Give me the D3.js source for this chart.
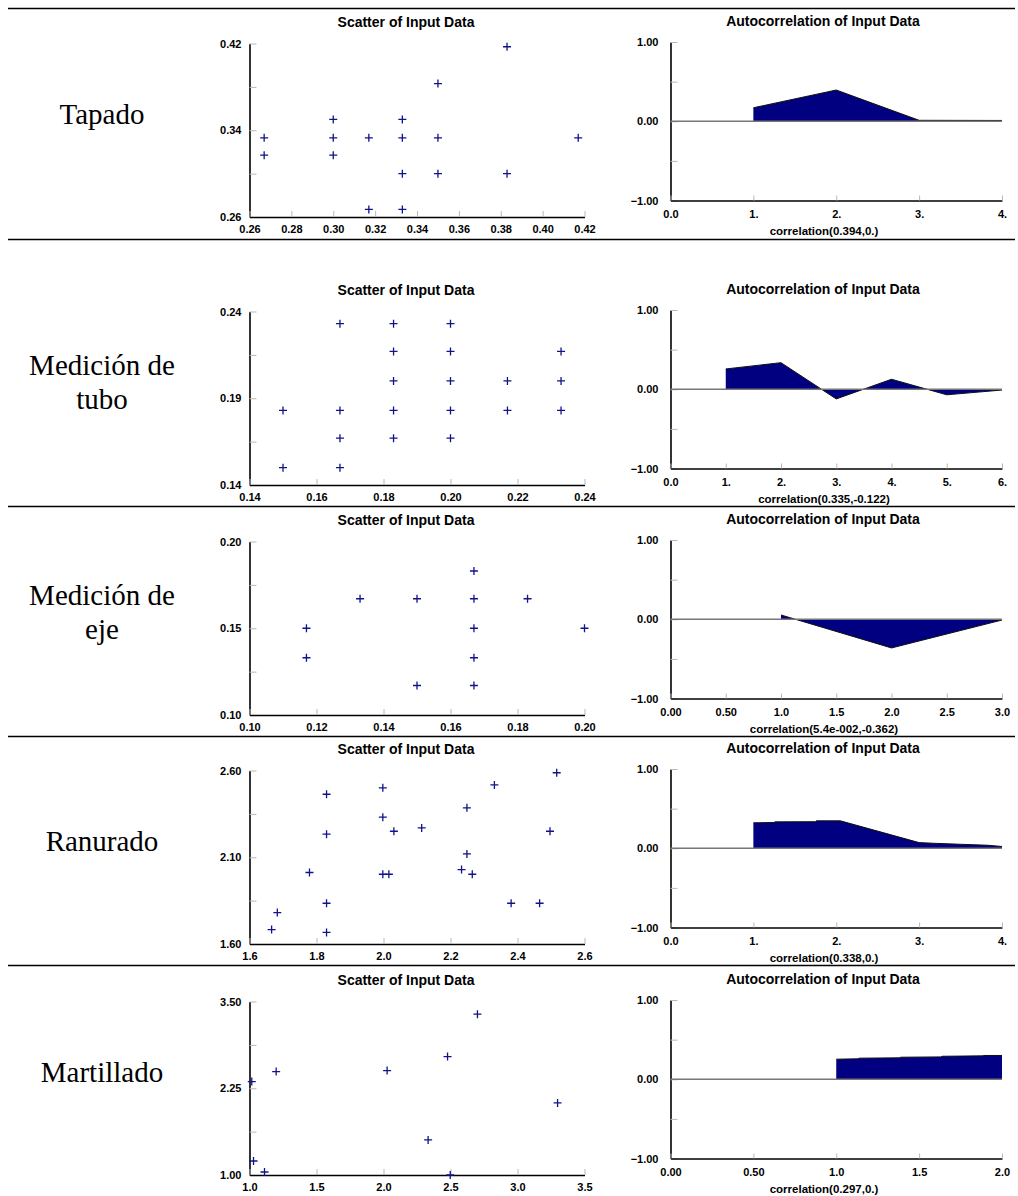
<!DOCTYPE html>
<html lang="es">
  <head>
    <meta charset="UTF-8" />
    <title>Scatter y autocorrelación</title>
    <script src="https://d3js.org/d3.v7.min.js"></script>
    <style>
      body { margin: 0; background: #fff; }
      .lbl { font-family: 'Liberation Serif', 'Times New Roman', serif; font-size: 29px; }
      .ct { font-family: 'Liberation Sans', Arial, sans-serif; font-weight: bold; }
    </style>
  </head>
  <body>
    <svg width="1018" height="1196"></svg>
  </body>

  <script>
    // nombres de cada fila
    var rowNames = [['Tapado'], ['Medición de', 'tubo'], ['Medición de', 'eje'], ['Ranurado'], ['Martillado']]

    // datos del scatter (x, y)
    var tapadoPts = [[0.383, 0.417], [0.35, 0.383], [0.3, 0.35], [0.333, 0.35], [0.267, 0.333], [0.3, 0.333],
      [0.317, 0.333], [0.333, 0.333], [0.35, 0.333], [0.417, 0.333], [0.267, 0.317], [0.3, 0.317],
      [0.333, 0.3], [0.35, 0.3], [0.383, 0.3], [0.317, 0.267], [0.333, 0.267]]
    var tuboPts = [[0.167, 0.233], [0.183, 0.233], [0.2, 0.233], [0.183, 0.217], [0.2, 0.217], [0.233, 0.217],
      [0.183, 0.2], [0.2, 0.2], [0.217, 0.2], [0.233, 0.2], [0.15, 0.183], [0.167, 0.183], [0.183, 0.183],
      [0.2, 0.183], [0.217, 0.183], [0.233, 0.183], [0.167, 0.167], [0.183, 0.167], [0.2, 0.167],
      [0.15, 0.15], [0.167, 0.15]]
    var ejePts = [[0.167, 0.183], [0.133, 0.167], [0.15, 0.167], [0.167, 0.167], [0.183, 0.167],
      [0.117, 0.15], [0.167, 0.15], [0.2, 0.15], [0.117, 0.133], [0.167, 0.133], [0.15, 0.117], [0.167, 0.117]]
    var ranuradoPts = [[2.517, 2.587], [2.331, 2.517], [1.998, 2.5], [1.83, 2.463], [2.249, 2.385], [1.998, 2.331],
      [2.031, 2.25], [2.114, 2.269], [2.497, 2.25], [1.83, 2.233], [2.249, 2.119], [1.779, 2.012],
      [1.998, 2.002], [2.016, 2.002], [2.233, 2.029], [2.265, 2.002], [1.83, 1.835], [2.381, 1.835],
      [2.466, 1.835], [1.683, 1.781], [1.666, 1.683], [1.83, 1.667]]
    var martilladoPts = [[1.017, 2.346], [1.03, 1.202], [1.112, 1.043], [1.199, 2.49], [2.027, 2.505],
      [2.333, 1.505], [2.478, 2.707], [2.498, 1.0], [2.701, 3.317], [3.299, 2.038]]

    // ticks del scatter
    var scatterXTicks = [
      [0.26, 0.28, 0.30, 0.32, 0.34, 0.36, 0.38, 0.40, 0.42],
      [0.14, 0.16, 0.18, 0.20, 0.22, 0.24],
      [0.10, 0.12, 0.14, 0.16, 0.18, 0.20],
      [1.6, 1.8, 2.0, 2.2, 2.4, 2.6],
      [1.0, 1.5, 2.0, 2.5, 3.0, 3.5]
    ]
    var scatterXFmt = ['.2f', '.2f', '.2f', '.1f', '.1f']
    var scatterYTicks = [[0.26, 0.34, 0.42], [0.14, 0.19, 0.24], [0.10, 0.15, 0.20], [1.60, 2.10, 2.60], [1.00, 2.25, 3.50]]

    // autocorrelación (lag, valor)
    var acfLags = [
      [1, 2, 3, 4],
      [1, 2, 3, 4, 5, 6],
      [1, 2, 3],
      [1, 1.25, 1.26, 1.75, 1.76, 2.05, 3, 3.17, 3.5, 3.83, 4],
      [1, 1.13, 1.14, 1.38, 1.39, 1.63, 1.64, 1.88, 1.89, 2]
    ]
    var acfValues = [
      [0.17, 0.394, 0.012, 0.01],
      [0.256, 0.335, -0.122, 0.126, -0.07, -0.01],
      [0.054, -0.362, -0.01],
      [0.321, 0.325, 0.333, 0.335, 0.346, 0.346, 0.071, 0.063, 0.05, 0.038, 0.022],
      [0.253, 0.258, 0.266, 0.27, 0.278, 0.282, 0.29, 0.295, 0.3, 0.3]
    ]
    var acfXTicks = [[0, 1, 2, 3, 4], [0, 1, 2, 3, 4, 5, 6], [0, 0.5, 1, 1.5, 2, 2.5, 3], [0, 1, 2, 3, 4], [0, 0.5, 1, 1.5, 2]]
    var acfXLabels = [
      ['0.0', '1.', '2.', '3.', '4.'],
      ['0.0', '1.', '2.', '3.', '4.', '5.', '6.'],
      ['0.00', '0.50', '1.0', '1.5', '2.0', '2.5', '3.0'],
      ['0.0', '1.', '2.', '3.', '4.'],
      ['0.00', '0.50', '1.0', '1.5', '2.0']
    ]
    var acfCaptions = ['correlation(0.394,0.)', 'correlation(0.335,-0.122)', 'correlation(5.4e-002,-0.362)',
      'correlation(0.338,0.)', 'correlation(0.297,0.)']

    var scatterSets = [tapadoPts, tuboPts, ejePts, ranuradoPts, martilladoPts]

    // layout
    var svg = d3.select('svg')
    var ruleY = [8.5, 239.5, 506.5, 736.5, 965.5]
    var rowTop = [22, 290, 520, 749, 980]
    var mark = '#12128a'

    // lineas de la tabla
    svg.append('g').selectAll('line').data(ruleY).enter().append('line')
      .attr('x1', 8).attr('x2', 1015).attr('y1', function (d) { return d }).attr('y2', function (d) { return d })
      .attr('stroke', '#000').attr('stroke-width', 1.6)

    function styleAxis(g) {
      g.attr('font-family', null).attr('font-size', null)
      g.select('.domain').attr('stroke', '#000').attr('stroke-width', 1.6)
      g.selectAll('.tick line').attr('stroke', '#b8b8b8').attr('stroke-width', 1)
      g.selectAll('.tick text').attr('class', 'ct').attr('font-size', 11).attr('fill', '#000')
    }

    rowNames.forEach(function (lines, i) {
      var top = rowTop[i]
      var row = svg.append('g')

      // nombre
      var mid = top + 92
      row.append('g').selectAll('text').data(lines).enter().append('text')
        .attr('class', 'lbl')
        .attr('x', 102)
        .attr('y', function (d, k) { return mid + 10 + (k - (lines.length - 1) / 2) * 33.5 })
        .attr('text-anchor', 'middle')
        .text(function (d) { return d })

      // ---- scatter ----
      var xt = scatterXTicks[i], yt = scatterYTicks[i]
      var x = d3.scaleLinear().domain([xt[0], xt[xt.length - 1]]).range([249.5, 584.5])
      var y = d3.scaleLinear().domain([yt[0], yt[yt.length - 1]]).range([top + 195, top + 21.5])
      var yAll = d3.range(5).map(function (k) { return yt[0] + (yt[2] - yt[0]) * k / 4 })

      row.append('text').attr('class', 'ct').attr('font-size', 14)
        .attr('x', 406).attr('y', top).attr('dy', '0.36em').attr('text-anchor', 'middle')
        .text('Scatter of Input Data')

      var gy = row.append('g').attr('transform', 'translate(' + x.range()[0] + ',0)')
        .call(d3.axisLeft(y).tickValues(yAll).tickSize(-7).tickSizeOuter(0).tickPadding(8)
          .tickFormat(function (d, k) { return k % 2 === 0 ? d3.format('.2f')(d) : '' }))
      styleAxis(gy)

      var gx = row.append('g').attr('transform', 'translate(0,' + y.range()[0] + ')')
        .call(d3.axisBottom(x).tickValues(xt).tickSize(-6).tickSizeOuter(0).tickFormat(d3.format(scatterXFmt[i])))
      styleAxis(gx)
      gx.selectAll('.tick text').attr('y', 12.5).attr('dy', '0.36em')

      row.append('g').selectAll('path').data(scatterSets[i]).enter().append('path')
        .attr('d', function (d) {
          var px = x(d[0]), py = y(d[1])
          return 'M' + (px - 4) + ',' + py + 'H' + (px + 4) + 'M' + px + ',' + (py - 4) + 'V' + (py + 4)
        })
        .attr('stroke', mark).attr('stroke-width', 1.3).attr('fill', 'none')

      // ---- autocorrelacion ----
      var lags = acfLags[i], vals = acfValues[i], at = acfXTicks[i]
      var ax = d3.scaleLinear().domain([0, at[at.length - 1]]).range([670.5, 1002])
      var ay = d3.scaleLinear().domain([-1, 1]).range([top + 178.5, top + 20])

      row.append('text').attr('class', 'ct').attr('font-size', 14)
        .attr('x', 823).attr('y', top - 1).attr('dy', '0.36em').attr('text-anchor', 'middle')
        .text('Autocorrelation of Input Data')

      var agy = row.append('g').attr('transform', 'translate(' + ax.range()[0] + ',0)')
        .call(d3.axisLeft(ay).tickValues([-1, -0.5, 0, 0.5, 1]).tickSize(-7).tickSizeOuter(0).tickPadding(12)
          .tickFormat(function (d) { return d === 0.5 || d === -0.5 ? '' : d3.format('.2f')(d) }))
      styleAxis(agy)

      var agx = row.append('g').attr('transform', 'translate(0,' + ay.range()[0] + ')')
        .call(d3.axisBottom(ax).tickValues(at).tickSize(-5).tickSizeOuter(0)
          .tickFormat(function (d, k) { return acfXLabels[i][k] }))
      styleAxis(agx)
      agx.selectAll('.tick text').attr('y', 13.8).attr('dy', '0.36em')

      var pts = lags.map(function (l, k) { return [l, vals[k]] })
      row.append('path').datum(pts)
        .attr('d', d3.area().x(function (d) { return ax(d[0]) }).y0(ay(0)).y1(function (d) { return ay(d[1]) }))
        .attr('fill', '#000080')
      row.append('path').datum(pts)
        .attr('d', d3.line().x(function (d) { return ax(d[0]) }).y(function (d) { return ay(d[1]) }))
        .attr('fill', 'none').attr('stroke', '#111').attr('stroke-width', 1)
      // linea de cero
      row.append('line')
        .attr('x1', ax(0)).attr('x2', ax.range()[1]).attr('y1', ay(0)).attr('y2', ay(0))
        .attr('stroke', '#777').attr('stroke-width', 1.5)

      row.append('text').attr('class', 'ct').attr('font-size', 11.5)
        .attr('x', 824).attr('y', top + 209).attr('dy', '0.36em').attr('text-anchor', 'middle')
        .text(acfCaptions[i])
    })
  </script>
</html>
